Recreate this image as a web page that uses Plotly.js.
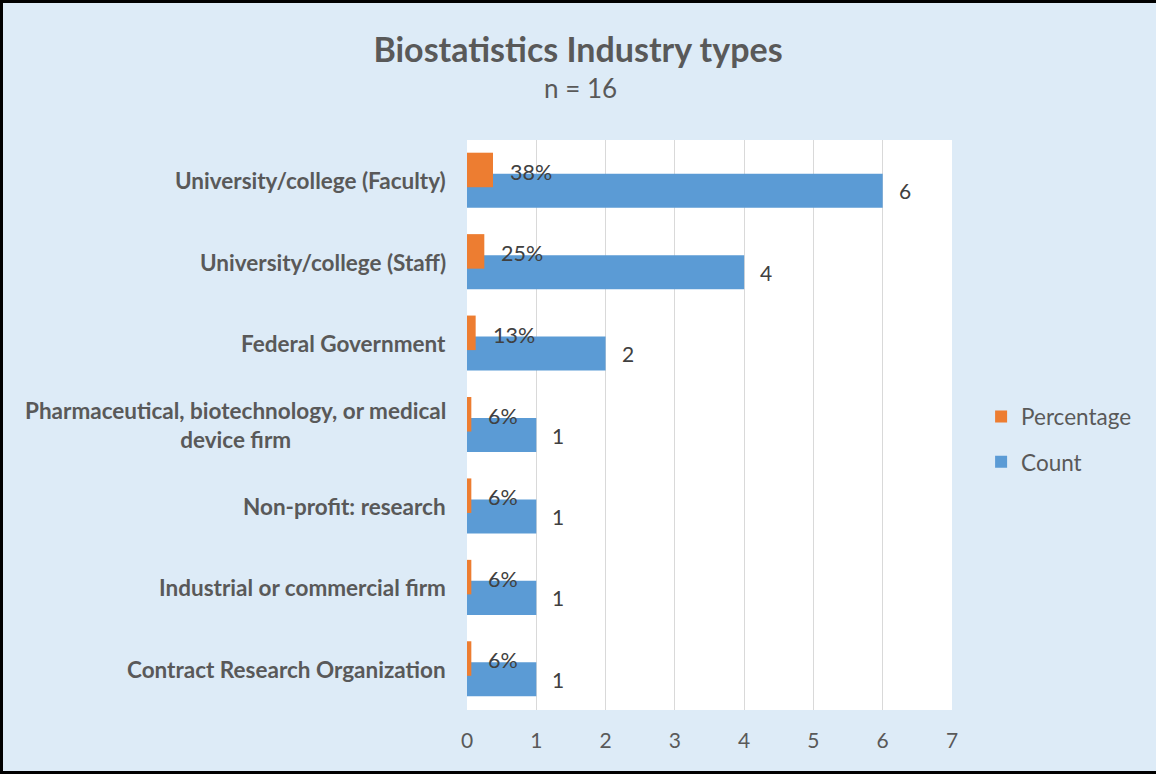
<!DOCTYPE html>
<html>
<head>
<meta charset="utf-8">
<script src="https://cdn.plot.ly/plotly-3.0.1.min.js"></script>
<style>
html,body{margin:0;padding:0;background:#DDEBF7;}
#wrap{position:relative;width:1156px;height:774px;}
#chart{width:1156px;height:774px;}
#frame{position:absolute;left:0;top:0;width:1153px;height:768px;border-left:3px solid #000;border-top:3px solid #000;border-bottom:3px solid #000;border-right:1px solid #c8c8c8;pointer-events:none;}
</style>
</head>
<body>
<div id="wrap"><div id="chart"></div><div id="frame"></div></div>
<script>
const categories = [
  "University/college (Faculty)",
  "University/college (Staff)",
  "Federal Government",
  "Pharmaceutical, biotechnology, or medical<br>device firm",
  "Non-profit: research",
  "Industrial or commercial firm",
  "Contract Research Organization"
];
const counts = [6, 4, 2, 1, 1, 1, 1];
const percentages = [0.375, 0.25, 0.125, 0.0625, 0.0625, 0.0625, 0.0625];
const xTicks = [0, 1, 2, 3, 4, 5, 6, 7];

const FONT = "Lato, 'Open Sans', sans-serif";
const GRAY = "#595959";
const DARK = "#404040";

const W = 1156, H = 774;
const M = {l: 467, r: 204, t: 140, b: 64};

const traceCount = {
  type: "bar", orientation: "h", name: "Count",
  y: categories, x: counts,
  width: 0.418, offset: -0.086,
  marker: {color: "#5B9BD5", opacity: 1},
  legendrank: 2, legendgroup: "b",
  hoverinfo: "x"
};
const tracePct = {
  type: "bar", orientation: "h", name: "Percentage",
  y: categories, x: percentages,
  width: 0.424, offset: -0.344,
  marker: {color: "#ED7D31", opacity: 1},
  legendrank: 1, legendgroup: "a",
  hoverinfo: "x"
};

const annotations = [];
categories.forEach((c, i) => {
  annotations.push({
    xref: "paper", yref: "y", x: 0, y: c, xanchor: "right", yanchor: "middle",
    xshift: -19, text: "<b>" + c + "</b>", showarrow: false, align: "center",
    font: {family: FONT, size: 22.5, color: GRAY}
  });
  annotations.push({
    xref: "x", yref: "y", x: counts[i], y: c, xanchor: "left", yanchor: "middle",
    xshift: 14, yshift: -10, text: String(counts[i]), showarrow: false,
    font: {family: FONT, size: 21, color: DARK}
  });
  annotations.push({
    xref: "x", yref: "y", x: percentages[i], y: c, xanchor: "left", yanchor: "middle",
    xshift: 15, yshift: 9, text: Math.round(percentages[i] * 100) + "%", showarrow: false,
    font: {family: FONT, size: 21.5, color: DARK}
  });
});
annotations.push({
  xref: "paper", yref: "paper", x: (W / 2 + 2 - M.l) / (W - M.l - M.r), y: 1,
  xanchor: "center", yanchor: "middle",
  yshift: 52, text: "n = 16", showarrow: false,
  font: {family: FONT, size: 26, color: GRAY}
});

const layout = {
  width: W, height: H,
  paper_bgcolor: "#DDEBF7", plot_bgcolor: "#FFFFFF",
  margin: M,
  title: {
    text: "<b>Biostatistics Industry types</b>",
    x: 0.5, xref: "container", xanchor: "center",
    y: 1 - 50 / 774, yref: "container", yanchor: "middle",
    font: {family: FONT, size: 34, color: GRAY}
  },
  barmode: "overlay",
  showlegend: true,
  legend: {
    x: 1.06, xanchor: "left", y: 0.552, yanchor: "top",
    bgcolor: "rgba(0,0,0,0)", tracegroupgap: 13,
    font: {family: FONT, size: 22.5, color: GRAY}
  },
  xaxis: {
    range: [0, 7], tickvals: xTicks, ticktext: xTicks.map(String),
    showgrid: true, gridcolor: "#D9D9D9", gridwidth: 1, zeroline: false,
    showline: false, ticks: "", ticklabelstandoff: 16,
    tickfont: {family: FONT, size: 21, color: GRAY}, fixedrange: true
  },
  yaxis: {
    type: "category", categoryorder: "array", categoryarray: categories,
    autorange: "reversed", showticklabels: false, showgrid: false, zeroline: false,
    ticks: "", fixedrange: true
  },
  annotations: annotations
};

Plotly.newPlot("chart", [traceCount, tracePct], layout, {displayModeBar: false, staticPlot: true});
</script>
</body>
</html>
